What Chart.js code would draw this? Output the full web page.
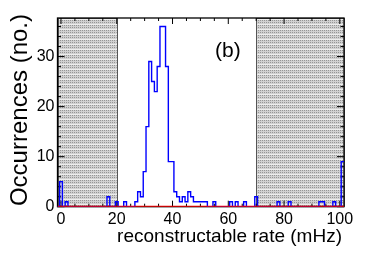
<!DOCTYPE html>
<html><head><meta charset="utf-8">
<script src="https://cdn.jsdelivr.net/npm/chart.js@4/dist/chart.umd.min.js"></script>
<style>html,body{margin:0;padding:0;background:#fff;}#c{display:block;}</style>
</head><body>
<canvas id="c" width="382" height="259"></canvas>
<script>
// ---- data ----
const firstBinCenter = -1;           // bins of width 1, centred on integers
const binWidth = 1;
const counts = [
  0,                                   // -1
  5, 0, 1, 0, 0, 0, 0, 0, 0, 0,        // 0..9
  0, 0, 0, 0, 0, 0, 0, 2, 0, 0,        // 10..19
  1, 0, 0, 1, 0, 0, 0, 1, 3, 2,        // 20..29
  7, 16, 29, 25, 23, 28, 36, 36, 28, 9,// 30..39
  9, 3, 2, 1, 2, 1, 3, 2, 1, 1,        // 40..49
  1, 1, 1, 0, 0, 1, 0, 0, 0, 0,        // 50..59
  0, 1, 0, 1, 0, 0, 1, 0, 0, 0,        // 60..69
  2, 0, 0, 0, 0, 0, 0, 0, 1, 0,        // 70..79
  0, 0, 1, 0, 0, 0, 0, 0, 0, 0,        // 80..89
  0, 0, 0, 1, 1, 0, 0, 0, 1, 0,        // 90..99
  0, 9                                 // 100..101
];
const fitValue = 0;
const xRange = [-1.25, 101.5];
const yRange = [0, 37.7];
const xTickLabels = [0, 20, 40, 60, 80, 100];
const yTickLabels = [0, 10, 20, 30];
const xMinorStep = 5;
const yMinorStep = 2;
const excludedRanges = [[-1.25, 20], [70, 101.5]];
const xTitle = 'reconstructable rate (mHz)';
const yTitle = 'Occurrences (no.)';
const panelLabel = '(b)';

// ---- build step outline (bin low edges) ----
const stepPts = counts.map((c, i) => ({x: firstBinCenter + i*binWidth - binWidth/2, y: c}));
stepPts.push({x: firstBinCenter + counts.length*binWidth - binWidth/2, y: counts[counts.length-1]});
const fitPts = [{x: xRange[0], y: fitValue}, {x: xRange[1], y: fitValue}];

// gray dotted pattern
function makePattern(ctx){
  const t = document.createElement('canvas'); t.width = 4; t.height = 5;
  const g = t.getContext('2d');
  g.fillStyle = '#d0d0d0'; g.fillRect(0,0,4,5);
  g.fillStyle = '#959595';
  for (const r of [0,2]) for (const c of [0,2]) g.fillRect(c,r,1,1);
  g.fillStyle = '#ededed'; g.fillRect(0,4,4,1);
  return ctx.createPattern(t,'repeat');
}

const FONT = '"Liberation Sans", Arial, Helvetica, sans-serif';

const decor = {
  id: 'decor',
  beforeDatasetsDraw(chart){
    const {ctx, chartArea: a, scales: {x, y}} = chart;
    ctx.save();
    const pat = makePattern(ctx);
    for (const [lo, hi] of excludedRanges){
      const x0 = x.getPixelForValue(lo), x1 = x.getPixelForValue(hi);
      ctx.fillStyle = pat;
      ctx.fillRect(x0, a.top, x1-x0, a.bottom-a.top);
      ctx.strokeStyle = '#555'; ctx.lineWidth = 1;
      ctx.strokeRect(Math.round(x0)+0.5, a.top+0.5, Math.round(x1-x0), a.bottom-a.top-1);
    }
    // frame
    ctx.strokeStyle = '#000'; ctx.lineWidth = 1.3;
    ctx.strokeRect(a.left, a.top, a.right-a.left, a.bottom-a.top);
    // ticks
    ctx.lineWidth = 1;
    ctx.beginPath();
    for (let v = Math.ceil(xRange[0]/xMinorStep)*xMinorStep; v <= xRange[1]; v += xMinorStep){
      const px = x.getPixelForValue(v);
      const major = xTickLabels.includes(v);
      const len = major ? 6 : 3;
      ctx.moveTo(px, a.bottom); ctx.lineTo(px, a.bottom - len);
      ctx.moveTo(px, a.top); ctx.lineTo(px, a.top + len);
    }
    for (let v = Math.ceil(yRange[0]/yMinorStep)*yMinorStep; v <= yRange[1]; v += yMinorStep){
      const py = y.getPixelForValue(v);
      const major = yTickLabels.includes(v);
      const len = major ? 7 : 3.5;
      ctx.moveTo(a.left, py); ctx.lineTo(a.left + len, py);
      ctx.moveTo(a.right, py); ctx.lineTo(a.right - len, py);
    }
    ctx.stroke();
    ctx.restore();
  },
  afterDraw(chart){
    const {ctx} = chart;
    ctx.save();
    ctx.fillStyle = '#000';
    ctx.font = '19px ' + FONT;
    ctx.textAlign = 'right'; ctx.textBaseline = 'alphabetic';
    ctx.fillText(xTitle, 342, 242);
    ctx.translate(26.5, 14);
    ctx.rotate(-Math.PI/2);
    ctx.font = '24px ' + FONT;
    ctx.textAlign = 'right'; ctx.textBaseline = 'alphabetic';
    ctx.fillText(yTitle, 0, 0);
    ctx.restore();
    ctx.save();
    ctx.font = '21px ' + FONT;
    ctx.fillStyle = '#000';
    ctx.textAlign = 'left'; ctx.textBaseline = 'alphabetic';
    ctx.fillText(panelLabel, 215, 57);
    ctx.restore();
  }
};

new Chart(document.getElementById('c'), {
  type: 'line',
  data: {
    datasets: [
      {data: fitPts, borderColor: '#ff0000', borderWidth: 2, pointRadius: 0, fill: false},
      {data: stepPts, stepped: 'before', borderColor: '#0000ff', borderWidth: 1.4, pointRadius: 0, fill: false}
    ]
  },
  options: {
    responsive: false, devicePixelRatio: 1, animation: false,
    layout: {padding: {left: 0, right: 38, top: 18, bottom: 0}},
    plugins: {legend: {display: false}, tooltip: {enabled: false}},
    scales: {
      x: {
        type: 'linear', min: xRange[0], max: xRange[1],
        grid: {display: false, drawTicks: false}, border: {display: false},
        afterBuildTicks: ax => { ax.ticks = xTickLabels.map(v => ({value: v})); },
        afterFit: ax => { ax.height = 52.3; },
        ticks: {padding: 3, color: '#000', font: {family: FONT, size: 16}, maxRotation: 0, autoSkip: false}
      },
      y: {
        type: 'linear', min: yRange[0], max: yRange[1],
        grid: {display: false, drawTicks: false}, border: {display: false},
        afterBuildTicks: ax => { ax.ticks = yTickLabels.map(v => ({value: v})); },
        afterFit: ax => { ax.width = 57.5; },
        ticks: {padding: 3, color: '#000', font: {family: FONT, size: 16}}
      }
    }
  },
  plugins: [decor]
});
</script>
</body></html>
